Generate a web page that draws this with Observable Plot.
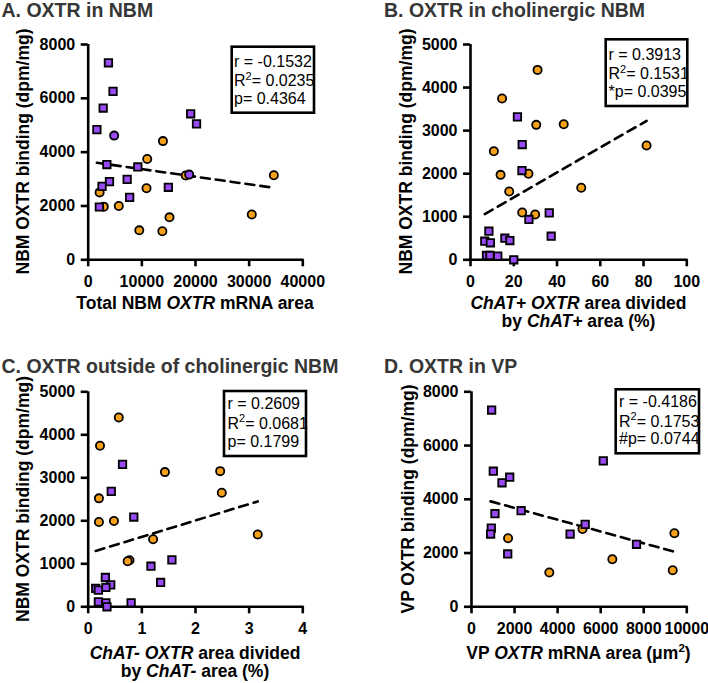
<!DOCTYPE html>
<html>
<head>
<meta charset="utf-8">
<script src="https://cdn.jsdelivr.net/npm/d3@7"></script>
<script src="https://cdn.jsdelivr.net/npm/@observablehq/plot@0.6"></script>
<style>
  body { margin: 0; background: #fff; }
  #fig { position: relative; width: 708px; height: 683px; font-family: "Liberation Sans", Arial, sans-serif; }
  #fig svg.panel { position: absolute; overflow: visible; }
  #fig svg.labels { position: absolute; left: 0; top: 0; pointer-events: none; overflow: visible; }
</style>
</head>
<body>
<div id="fig"></div>
<script>
// ---- A. OXTR in NBM: binding vs total NBM OXTR mRNA area ----
const aOrangeX = [13930, 11000, 18170, 34600, 10870, 2130, 2900, 5700, 15150, 30490, 9520, 13820];
const aOrangeY = [4410, 3745, 3130, 3140, 2660, 2505, 1975, 2000, 1578, 1685, 1095, 1063];
const aPurpleSqX = [3770, 4630, 2790, 1620, 19100, 20190, 3480, 9250, 7260, 3970, 2580, 14940, 7730, 2080];
const aPurpleSqY = [7320, 6260, 5640, 4835, 5425, 5050, 3540, 3450, 2990, 2905, 2730, 2695, 2320, 1962];
const aPurpleCircX = [4840, 18820];
const aPurpleCircY = [4615, 3165];

// ---- B. OXTR in cholinergic NBM ----
const bOrangeX = [31.0, 14.6, 30.4, 43.1, 81.4, 10.8, 13.9, 26.8, 17.9, 51.2, 23.9, 29.9];
const bOrangeY = [4410, 3745, 3134, 3149, 2654, 2522, 1973, 1997, 1586, 1672, 1098, 1052];
const bPurpleX = [21.7, 23.9, 23.8, 36.4, 27.0, 37.3, 8.5, 15.9, 18.2, 6.6, 9.2, 7.4, 9.0, 12.6, 20.0];
const bPurpleY = [3320, 2677, 2073, 1091, 936, 548, 664, 501, 448, 432, 395, 100, 100, 84, 0];

// ---- C. OXTR outside of cholinergic NBM ----
const cOrangeX = [0.57, 0.22, 1.43, 2.46, 2.49, 0.20, 0.20, 0.48, 1.21, 3.16, 0.77, 0.735];
const cOrangeY = [4401, 3745, 3132, 3155, 2654, 2522, 1972, 1995, 1571, 1680, 1083, 1060];
const cPurpleX = [0.64, 0.43, 0.85, 1.56, 1.17, 1.35, 0.32, 0.42, 0.33, 0.14, 0.19, 0.19, 0.33, 0.35, 0.80];
const cPurpleY = [3311, 2684, 2088, 1090, 944, 566, 682, 510, 450, 427, 387, 116, 93, 0, 93];

// ---- D. OXTR in VP ----
const dOrangeX = [1698, 5156, 3614, 6542, 9424, 9346];
const dOrangeY = [2548, 2893, 1276, 1769, 2734, 1361];
const dPurpleX = [935, 1013, 1417, 1776, 6121, 1090, 2305, 920, 888, 5280, 4580, 7664, 1682];
const dPurpleY = [7322, 5045, 4614, 4822, 5430, 3464, 3575, 2931, 2708, 3068, 2708, 2326, 1966];

// axis ticks
const aXTicks = [0, 10000, 20000, 30000, 40000];
const aYTicks = [0, 2000, 4000, 6000, 8000];
const bXTicks = [0, 20, 40, 60, 80, 100];
const bYTicks = [0, 1000, 2000, 3000, 4000, 5000];
const cXTicks = [0, 1, 2, 3, 4];
const cYTicks = [0, 1000, 2000, 3000, 4000, 5000];
const dXTicks = [0, 2000, 4000, 6000, 8000, 10000];
const dYTicks = [0, 2000, 4000, 6000, 8000];

// correlation statistics printed in each panel
const aStats = ["r = -0.1532", "0.0235", "p= 0.4364"];
const bStats = ["r = 0.3913", "0.1531", "*p= 0.0395"];
const cStats = ["r = 0.2609", "0.0681", "p= 0.1799"];
const dStats = ["r = -0.4186", "0.1753", "#p= 0.0744"];

const ORANGE = "#F7A11A";
const PURPLE = "#9B4AF7";
const FONT = '"Liberation Sans", Arial, sans-serif';
const fig = document.getElementById("fig");

const pts = (xs, ys) => xs.map((x, i) => ({x, y: ys[i]}));

function panel({left, top, width, height, margin, xDomain, yDomain, xTicks, yTicks, orange, purpleSq, purpleCirc = []}) {
  const all = [...orange, ...purpleSq, ...purpleCirc];
  const dotStyle = {x: "x", y: "y", stroke: "black", strokeWidth: 1.8};
  const chart = Plot.plot({
    width, height,
    marginLeft: margin[0], marginRight: margin[1], marginTop: margin[2], marginBottom: margin[3],
    x: {domain: xDomain},
    y: {domain: yDomain},
    style: {fontFamily: FONT, fontSize: "16px", fontWeight: "bold", color: "black", background: "transparent", overflow: "visible"},
    marks: [
      Plot.axisX({ticks: xTicks, tickSize: 7, tickPadding: 9, strokeWidth: 2.6, tickFormat: d3.format("d"), label: null}),
      Plot.axisY({ticks: yTicks, tickSize: 7, tickPadding: 6, strokeWidth: 2.6, tickFormat: d3.format("d"), label: null}),
      Plot.ruleX([xDomain[0]], {strokeWidth: 2.6}),
      Plot.ruleY([yDomain[0]], {strokeWidth: 2.6, strokeLinecap: "square"}),
      Plot.linearRegressionY(all, {x: "x", y: "y", ci: 0, stroke: "black", strokeWidth: 2.6, strokeDasharray: "9,6"}),
      Plot.dot(orange, {...dotStyle, r: 4.1, fill: ORANGE}),
      Plot.dot(purpleCirc, {...dotStyle, r: 4.1, fill: PURPLE}),
      Plot.dot(purpleSq, {...dotStyle, r: 4.2, symbol: "square", fill: PURPLE})
    ]
  });
  chart.classList.add("panel");
  chart.style.left = left + "px";
  chart.style.top = top + "px";
  fig.appendChild(chart);
}

panel({left: 0, top: 0, width: 354, height: 330, margin: [87.7, 51.7, 44, 70.7],
  xDomain: [0, 40000], yDomain: [0, 8000], xTicks: aXTicks, yTicks: aYTicks,
  orange: pts(aOrangeX, aOrangeY), purpleSq: pts(aPurpleSqX, aPurpleSqY), purpleCirc: pts(aPurpleCircX, aPurpleCircY)});

panel({left: 354, top: 0, width: 354, height: 330, margin: [116, 21.7, 44, 70.7],
  xDomain: [0, 100], yDomain: [0, 5000], xTicks: bXTicks, yTicks: bYTicks,
  orange: pts(bOrangeX, bOrangeY), purpleSq: pts(bPurpleX, bPurpleY)});

panel({left: 0, top: 330, width: 354, height: 353, margin: [87.7, 51.7, 61.3, 76.7],
  xDomain: [0, 4], yDomain: [0, 5000], xTicks: cXTicks, yTicks: cYTicks,
  orange: pts(cOrangeX, cOrangeY), purpleSq: pts(cPurpleX, cPurpleY)});

panel({left: 354, top: 330, width: 354, height: 353, margin: [117, 21.7, 61.3, 76.7],
  xDomain: [0, 10000], yDomain: [0, 8000], xTicks: dXTicks, yTicks: dYTicks,
  orange: pts(dOrangeX, dOrangeY), purpleSq: pts(dPurpleX, dPurpleY)});

// ---- titles, axis labels and statistics boxes ----
const svg = d3.select(fig).append("svg").attr("class", "labels")
  .attr("width", 708).attr("height", 683)
  .style("font-family", FONT);

function label(x, y, parts, {size = 17.5, weight = "bold", anchor = "middle", rotate = 0, fill = "black"} = {}) {
  const t = svg.append("text")
    .attr("transform", `translate(${x},${y}) rotate(${rotate})`)
    .attr("text-anchor", anchor)
    .attr("font-size", size)
    .attr("font-weight", weight)
    .attr("fill", fill);
  for (const p of parts) {
    const [s, italic] = Array.isArray(p) ? p : [p, false];
    t.append("tspan").attr("font-style", italic ? "italic" : "normal").text(s);
  }
}

const TITLE = {size: 19.5, anchor: "start", fill: "#363636"};
label(1.5, 17, ["A. OXTR in NBM"], TITLE);
label(384, 17, ["B. OXTR in cholinergic NBM"], TITLE);
label(1.5, 372.5, ["C. OXTR outside of cholinergic NBM"], TITLE);
label(384, 372.5, ["D. OXTR in VP"], TITLE);

label(29, 151.5, ["NBM OXTR binding (dpm/mg)"], {rotate: -90});
label(411.7, 151.5, ["NBM OXTR binding (dpm/mg)"], {rotate: -90});
label(29.3, 499, ["NBM OXTR binding (dpm/mg)"], {rotate: -90});
label(414, 499, ["VP OXTR binding (dpm/mg)"], {rotate: -90});

label(195, 308.5, ["Total NBM ", ["OXTR", true], " mRNA area"]);
label(578.5, 308.5, [["ChAT+ OXTR", true], " area divided"]);
label(578.5, 327, ["by ", ["ChAT+", true], " area (%)"]);
label(195, 658.5, [["ChAT- OXTR", true], " area divided"]);
label(195, 677, ["by ", ["ChAT-", true], " area (%)"]);

// VP x label with superscript
{
  const t = svg.append("text").attr("x", 578.5).attr("y", 658.5).attr("text-anchor", "middle")
    .attr("font-size", 17.5).attr("font-weight", "bold");
  t.append("tspan").text("VP ");
  t.append("tspan").attr("font-style", "italic").text("OXTR");
  t.append("tspan").text(" mRNA area (μm");
  t.append("tspan").attr("font-size", 11.5).attr("dy", -7).text("2");
  t.append("tspan").attr("dy", 7).text(")");
}

function statsBox([x0, y0, x1, y1], tx, baselines, lines) {
  svg.append("rect").attr("x", x0).attr("y", y0).attr("width", x1 - x0).attr("height", y1 - y0)
    .attr("fill", "white").attr("stroke", "black").attr("stroke-width", 2.6);
  const g = svg.append("g").attr("font-size", 16).attr("font-weight", "normal").attr("fill", "black");
  g.append("text").attr("x", tx).attr("y", baselines[0]).text(lines[0]);
  const r2 = g.append("text").attr("x", tx).attr("y", baselines[1]);
  r2.append("tspan").text("R");
  r2.append("tspan").attr("font-size", 11).attr("dy", -6.5).text("2");
  r2.append("tspan").attr("dy", 6.5).text("= " + lines[1]);
  g.append("text").attr("x", tx).attr("y", baselines[2]).text(lines[2]);
}

statsBox([231.7, 46.7, 314, 112.7], 234, [66.7, 86, 104], aStats);
statsBox([605.7, 39.3, 687.3, 106], 608.5, [60, 79.3, 96.7], bStats);
statsBox([224, 391, 306, 456], 227.5, [409, 428.5, 446.5], cStats);
statsBox([615.7, 389.3, 699, 453.3], 619, [407.3, 426.7, 444.3], dStats);
</script>
</body>
</html>
